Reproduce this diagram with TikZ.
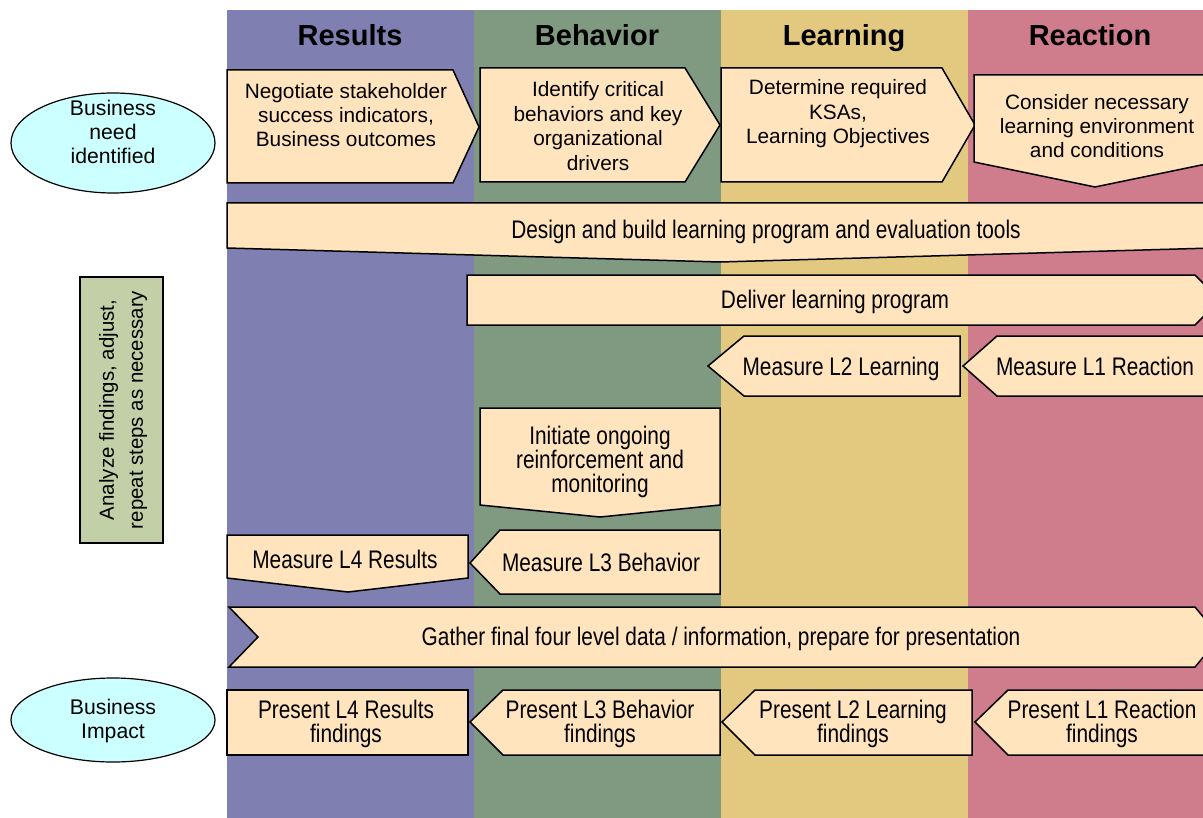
\documentclass[tikz,border=0pt]{standalone}
\usepackage{fontspec}
\setmainfont{Liberation Sans}
\newfontfamily\narrowfont[FakeStretch=0.82]{Liberation Sans}
\usepackage{tikz}
\usetikzlibrary{positioning}
\usetikzlibrary{calc}
\usetikzlibrary{shapes.geometric}

\definecolor{laneResults}{HTML}{7F7FB1}
\definecolor{laneBehavior}{HTML}{7F9A80}
\definecolor{laneLearning}{HTML}{E2C97F}
\definecolor{laneReaction}{HTML}{CF7D8C}
\definecolor{stepfill}{HTML}{FFE4BE}
\definecolor{bizfill}{HTML}{CCFFFF}
\definecolor{analyzefill}{HTML}{C3CFA6}

\tikzset{
  stepshape/.style={draw=black, fill=stepfill, line width=0.75pt, line join=miter},
  widetext/.style={align=center, inner sep=0pt, font=\fontsize{10.4}{12.2}\selectfont},
  narrowtext/.style={align=center, inner sep=0pt, yshift=-1pt, font=\narrowfont\fontsize{12.7}{12.2}\selectfont},
  lanehead/.style={anchor=base, font=\bfseries\fontsize{14.5}{16}\selectfont},
  bizoval/.style={draw=black, fill=bizfill, line width=0.6pt},
  biztext/.style={align=center, inner sep=0pt, font=\fontsize{10.6}{12.2}\selectfont},
}

\begin{document}
\begin{tikzpicture}[x=0.5pt,y=-0.5pt]
\useasboundingbox (0,0) rectangle (1203,818);
\begin{scope}
\clip (0,0) rectangle (1203,818);

% lanes
\fill[laneResults] (227,10) rectangle (474,818);% Results lane
\fill[laneBehavior] (474,10) rectangle (721,818);% Behavior lane
\fill[laneLearning] (721,10) rectangle (968,818);% Learning lane
\fill[laneReaction] (968,10) rectangle (1203,818);% Reaction lane

\node[lanehead] (hResults) at (350,46) {Results};
\node[lanehead] (hBehavior) at (597,46) {Behavior};
\node[lanehead] (hLearning) at (844,46) {Learning};
\node[lanehead] (hReaction) at (1090,46) {Reaction};

% first row, planning
\draw[stepshape] (227,70) -- (453,70) -- (479,127) -- (453,183) -- (227,183) -- cycle;
\node[widetext] (negotiate) at (346,115) {Negotiate stakeholder\\success indicators,\\Business outcomes};
\draw[stepshape] (480,68) -- (685,68) -- (720,125) -- (685,182) -- (480,182) -- cycle;
\node[widetext] (identify) at (598,126) {Identify critical\\behaviors and key\\organizational\\drivers};
\draw[stepshape] (721,68) -- (942,68) -- (975,125) -- (942,182) -- (721,182) -- cycle;
\node[widetext] (determine) at (838,114) {Determine required\\KSAs,\\Learning Objectives};
\draw[stepshape] (974,75) -- (1216,75) -- (1216,162) -- (1095,187) -- (974,162) -- cycle;
\node[widetext] (consider) at (1097,126) {Consider necessary\\learning environment\\and conditions};

% design and delivery
\draw[stepshape] (227,203) -- (1213,203) -- (1213,248) -- (720,262) -- (227,248) -- cycle;
\node[narrowtext] (design) at (766,230) {Design and build learning program and evaluation tools};
\draw[stepshape] (467,275) -- (1195,275) -- (1220,300) -- (1195,325) -- (467,325) -- cycle;
\node[narrowtext] (deliver) at (835,300) {Deliver learning program};

% measuring
\draw[stepshape] (997,336) -- (1220,336) -- (1220,396) -- (997,396) -- (963,366) -- cycle;
\node[narrowtext] (measureL1) at (1095,364) {Measure L1 Reaction};
\draw[stepshape] (744,336) -- (960,336) -- (960,396) -- (744,396) -- (708,366) -- cycle;
\node[narrowtext] (measureL2) at (841,367) {Measure L2 Learning};
\draw[stepshape] (480,408) -- (720,408) -- (720,505) -- (600,517) -- (480,505) -- cycle;
\node[narrowtext] (initiate) at (600,460) {Initiate ongoing\\reinforcement and\\monitoring};
\draw[stepshape] (500,530) -- (720,530) -- (720,594) -- (500,594) -- (470,563) -- cycle;
\node[narrowtext] (measureL3) at (601,560) {Measure L3 Behavior};
\draw[stepshape] (227,535) -- (468,535) -- (468,578) -- (348,592) -- (227,578) -- cycle;
\node[narrowtext] (measureL4) at (345,557) {Measure L4 Results};

% gather
\draw[stepshape] (229,607) -- (1195,607) -- (1220,637) -- (1195,667) -- (229,667) -- (258,637) -- cycle;
\node[narrowtext] (gather) at (721,637) {Gather final four level data / information, prepare for presentation};

% presenting
\draw[stepshape] (1008,690) -- (1220,690) -- (1220,755) -- (1008,755) -- (975,722) -- cycle;
\node[narrowtext] (presentL1) at (1102,722) {Present L1 Reaction\\findings};
\draw[stepshape] (755,690) -- (972,690) -- (972,755) -- (755,755) -- (722,722) -- cycle;
\node[narrowtext] (presentL2) at (853,722) {Present L2 Learning\\findings};
\draw[stepshape] (503,690) -- (720,690) -- (720,755) -- (503,755) -- (470,722) -- cycle;
\node[narrowtext] (presentL3) at (600,722) {Present L3 Behavior\\findings};
\draw[stepshape] (227,690) rectangle (468,755);
\node[narrowtext] (presentL4) at (346,722) {Present L4 Results\\findings};
\end{scope}

% left column
\draw[bizoval] (113,143) ellipse [x radius=102, y radius=50];
\node[biztext] (needIdentified) at (113,132) {Business\\need\\identified};
\draw[bizoval] (113,720) ellipse [x radius=102, y radius=42];
\node[biztext] (bizImpact) at (113,721) {Business\\Impact};
\draw[fill=analyzefill, line width=0.6pt] (80,277) rectangle (163,543);
\node[rotate=90, align=center, inner sep=0pt, font=\fontsize{10.2}{14.5}\selectfont] (analyze) at (123,410)
  {Analyze findings, adjust,\\repeat steps as necessary};
\end{tikzpicture}
\end{document}
